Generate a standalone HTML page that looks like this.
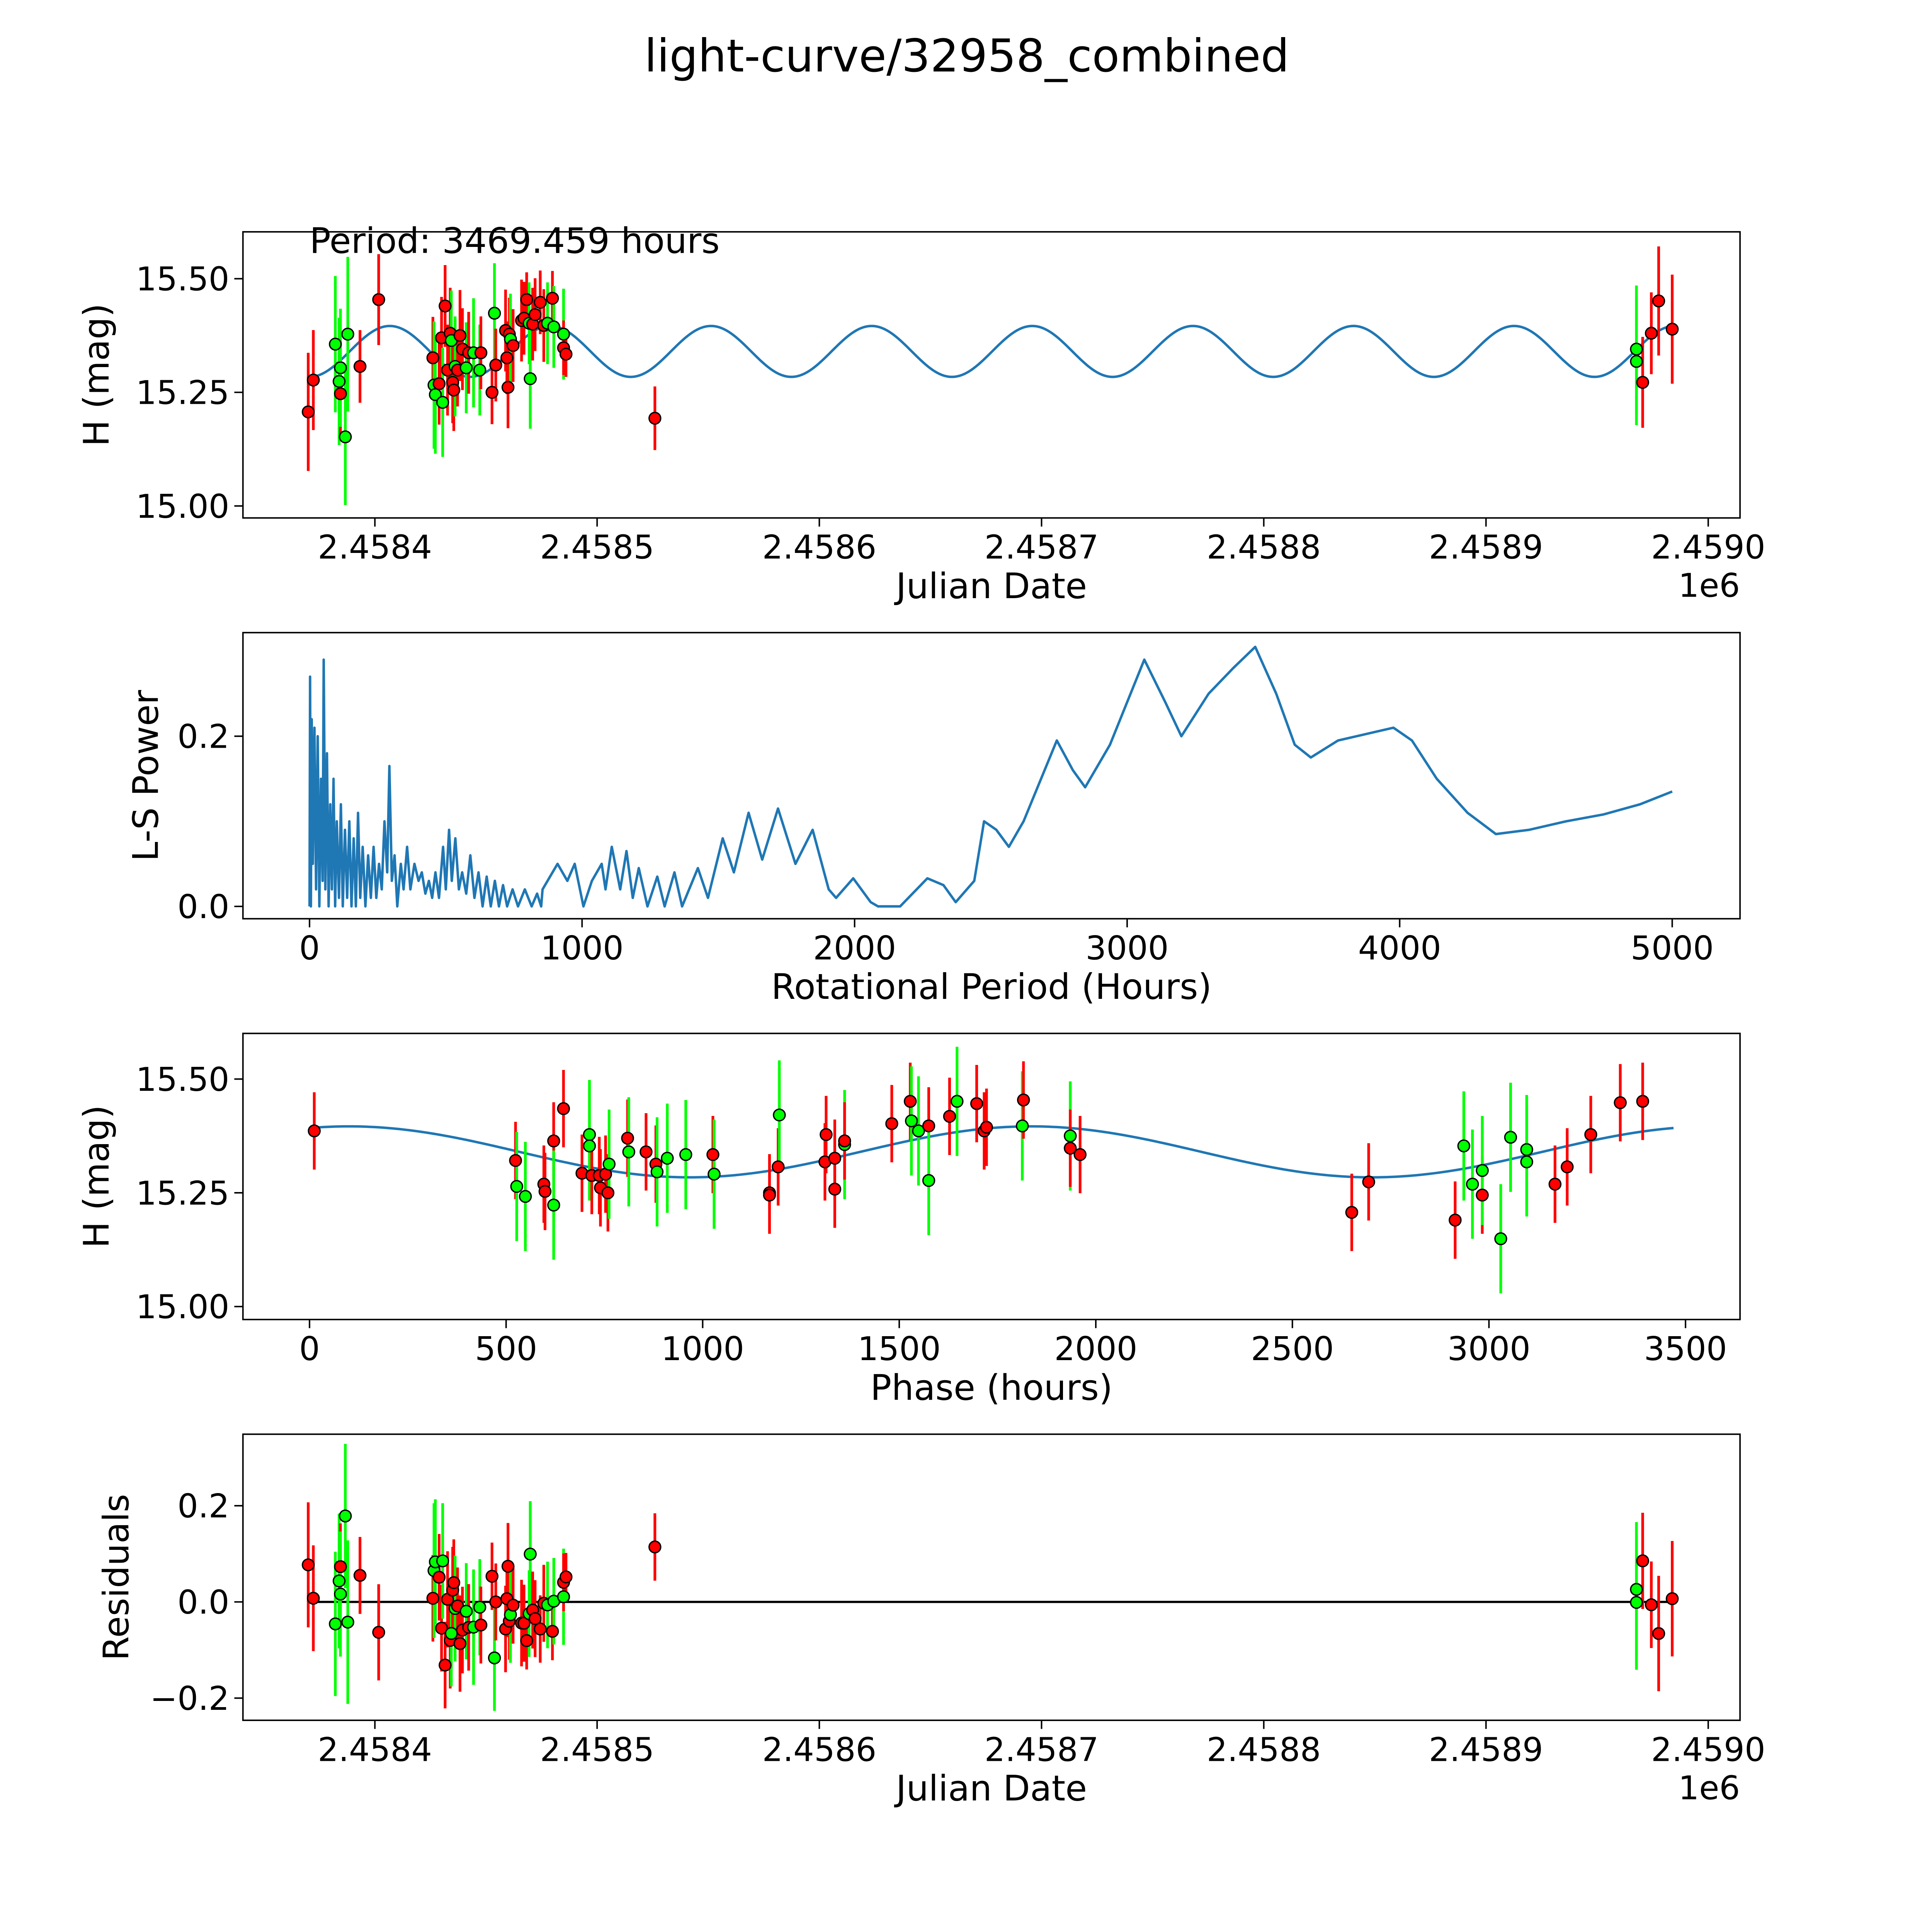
<!DOCTYPE html>
<html><head><meta charset="utf-8"><title>light-curve/32958_combined</title>
<style>
html,body{margin:0;padding:0;background:#fff;width:5400px;height:5400px;overflow:hidden;}
svg{position:absolute;left:0;top:0;width:5400px;height:5400px;display:block;font-family:"DejaVu Sans","Liberation Sans",sans-serif;}
</style></head>
<body>
<svg id="fig" width="5400" height="5400" viewBox="0 0 1692 1692" preserveAspectRatio="xMinYMin meet" xmlns="http://www.w3.org/2000/svg">
<rect width="1692" height="1692" fill="#fff"/>
<text x="784" y="58" font-size="36.5" text-anchor="middle">light-curve/32958_combined</text>
</svg>
<script>
// ---------- data: panel 1 (light curve) ----------
const jd = [2458370.0,2458372.3,2458382.2,2458383.9,2458384.5,2458384.5,2458386.7,2458387.8,2458393.3,2458401.7,
2458426.1,2458426.6,2458427.2,2458428.9,2458430.0,2458430.5,2458431.6,2458432.7,2458433.9,2458434.4,
2458435.0,2458435.5,2458436.1,2458437.2,2458438.3,2458439.4,2458441.1,2458442.2,2458444.4,2458447.2,
2458447.7,2458452.7,2458453.8,2458454.4,2458458.8,2458459.4,2458459.9,2458460.5,2458461.0,2458462.2,
2458466.0,2458467.1,2458468.3,2458469.4,2458469.9,2458471.0,2458472.1,2458474.4,2458476.0,2458477.7,
2458479.9,2458480.5,2458484.9,2458484.9,2458486.0,2458526.0,2458967.7,2458967.7,2458970.5,2458974.4,2458977.7,2458983.8];
const mag = [15.207,15.277,15.356,15.274,15.247,15.304,15.152,15.378,15.307,15.454,
15.326,15.266,15.245,15.269,15.370,15.228,15.440,15.299,15.380,15.364,
15.272,15.255,15.307,15.299,15.375,15.345,15.304,15.337,15.337,15.299,
15.337,15.250,15.424,15.310,15.386,15.326,15.261,15.378,15.367,15.353,
15.408,15.413,15.454,15.402,15.280,15.400,15.421,15.448,15.397,15.402,
15.457,15.394,15.378,15.348,15.334,15.193,15.345,15.318,15.272,15.380,15.451,15.389];
const band = ['r','r','g','g','r','g','g','g','r','r',
'r','g','g','r','r','g','r','r','r','g',
'r','r','g','r','r','r','g','r','g','g',
'r','r','g','r','r','r','r','r','g','r',
'r','r','r','g','g','r','r','r','r','g',
'r','g','g','r','r','r','g','g','r','r','r','r'];
const magErr = [0.13,0.11,0.15,0.14,0.09,0.13,0.15,0.17,0.08,0.10,
0.09,0.14,0.13,0.09,0.09,0.12,0.09,0.10,0.10,0.11,
0.09,0.09,0.11,0.08,0.10,0.09,0.10,0.09,0.12,0.10,
0.08,0.07,0.11,0.08,0.09,0.08,0.09,0.08,0.10,0.08,
0.09,0.08,0.06,0.09,0.11,0.08,0.08,0.07,0.08,0.09,
0.06,0.09,0.10,0.06,0.05,0.07,0.14,0.14,0.10,0.09,0.12,0.12];
const periodText = "Period: 3469.459 hours";
// ---------- data: panel 2 (periodogram) ----------
const lsPeriod = [0,2,5,8,12,18,24,30,36,42,48,52,58,64,70,76,82,88,94,100,108,115,122,130,138,146,154,162,170,178,186,195,205,215,225,235,245,255,265,275,285,293,302,312,322,335,345,358,370,385,400,412,425,438,450,462,475,490,500,512,522,535,548,560,575,590,605,620,635,650,665,680,695,710,725,745,765,790,815,835,850,
855,910,946,973,1005,1036,1072,1086,1109,1140,1163,1186,1208,1240,1276,1303,1339,1367,1425,1462,1516,1557,1611,1661,1719,1783,1846,1905,1932,1995,2059,2086,2167,2267,2326,2371,2439,2475,2520,2566,2620,2742,2801,2846,2937,3063,3140,3199,3299,3389,3470,3547,3615,3674,3774,3842,3977,4045,4136,4249,4353,4475,4611,4747,4882,5000];
const lsPower = [0,0.27,0.0,0.22,0.05,0.21,0.02,0.2,0.0,0.15,0.03,0.29,0.02,0.18,0.0,0.12,0.02,0.15,0.0,0.1,0.01,0.12,0.0,0.09,0.01,0.1,0.0,0.08,0.0,0.11,0.01,0.07,0.0,0.06,0.01,0.07,0.01,0.05,0.02,0.1,0.04,0.165,0.03,0.06,0.0,0.05,0.02,0.07,0.02,0.05,0.03,0.04,0.015,0.03,0.01,0.04,0.01,0.07,0.02,0.09,0.03,0.08,0.02,0.04,0.015,0.06,0.01,0.04,0.0,0.035,0.0,0.03,0.0,0.025,0.0,0.02,0.0,0.02,0.0,0.015,0.0,
0.02,0.05,0.03,0.05,0.0,0.03,0.05,0.02,0.07,0.02,0.065,0.01,0.045,0.0,0.035,0.0,0.04,0.0,0.045,0.01,0.08,0.04,0.11,0.055,0.115,0.05,0.09,0.02,0.01,0.033,0.005,0.0,0.0,0.033,0.025,0.005,0.03,0.1,0.09,0.07,0.1,0.195,0.16,0.14,0.19,0.29,0.24,0.2,0.25,0.28,0.305,0.25,0.19,0.175,0.195,0.2,0.21,0.195,0.15,0.11,0.085,0.09,0.1,0.108,0.12,0.135];
// ---------- data: panel 3 (phased) ----------
const phase = [12,524,527,549,596,599,621,621,646,693,712,712,718,737,740,753,759,762,809,812,856,881,884,910,957,1026,1029,1170,1170,1192,1195,1311,1314,1336,1336,1361,1361,1481,1528,1531,1549,1575,1575,1628,1647,1697,1716,1722,1813,1816,1935,1935,1960,2651,2694,2914,2936,2958,2983,2983,3030,3055,3096,3096,3168,3199,3259,3334,3391];
const phaseMag = [15.386,15.321,15.264,15.242,15.269,15.253,15.364,15.223,15.435,15.293,15.378,15.353,15.288,15.288,15.261,15.291,15.250,15.313,15.370,15.340,15.340,15.313,15.296,15.326,15.334,15.334,15.291,15.250,15.245,15.307,15.421,15.318,15.378,15.258,15.326,15.356,15.364,15.402,15.451,15.408,15.386,15.397,15.277,15.418,15.451,15.446,15.386,15.394,15.397,15.454,15.375,15.348,15.334,15.207,15.274,15.190,15.353,15.269,15.245,15.299,15.149,15.372,15.345,15.318,15.269,15.307,15.378,15.448,15.451];
const phaseBand = ['r','r','g','g','r','r','r','g','r','r','g','g','r','r','r','r','r','g','r','g','r','r','g','g','g','r','g','r','r','r','g','r','r','r','r','g','r','r','r','g','g','r','g','r','g','r','r','r','g','r','g','r','r','r','r','r','g','g','r','g','g','g','g','g','r','r','r','r','r'];
const xTicksJD = [2458400,2458500,2458600,2458700,2458800,2458900,2459000];
const xTickLabelsJD = ["2.4584","2.4585","2.4586","2.4587","2.4588","2.4589","2.4590"];
const yTicksMag = [15.0,15.25,15.5];
const yTickLabelsMag = ["15.00","15.25","15.50"];
const xTicksLS = [0,1000,2000,3000,4000,5000];
const yTicksLS = [0.0,0.2];
const yTickLabelsLS = ["0.0","0.2"];
const xTicksPh = [0,500,1000,1500,2000,2500,3000,3500];
const yTicksRes = [-0.2,0.0,0.2];
const yTickLabelsRes = ["\u22120.2","0.0","0.2"];

// model parameters
const P = 3469.459, mMean = 15.340, mAmp = 0.056, jdPeak = 2458406.7, cycDays = P/24/2;
function modelJD(t){return mMean + mAmp*Math.cos(2*Math.PI*(t-jdPeak)/cycDays);}
function modelPh(p){return mMean + mAmp*Math.cos(2*Math.PI*(p-100)/(P/2));}

const NS="http://www.w3.org/2000/svg";
const svg=document.getElementById('fig');
function el(tag,attrs,parent){const e=document.createElementNS(NS,tag);for(const k in attrs)e.setAttribute(k,attrs[k]);(parent||svg).appendChild(e);return e;}
const colorOf=b=>b==='r'?'#ff0000':'#00ff00';

function lin(d0,d1,p0,p1){return v=>p0+(v-d0)*(p1-p0)/(d1-d0);}
const L=197,R=1411;
const sxJD=lin(2458400,2458500,304,484.2);
const sxLS=lin(0,1000,251,472);
const sxPh=lin(0,500,251,410.4);
const TF=26.5, LF=28.5;

function frame(name,top,bot,xs,xticks,xlabels,ys,yticks,ylabels,xTitle,yTitle,yTitleX,exp){
  const g=el('g',{});
  
  
  xticks.forEach((t,i)=>{
    const x=xs(t);
    const tk=el('line',{x1:x,x2:x,y1:bot,y2:bot+7,stroke:'#000','stroke-width':1.2},g);
    
    
    const tl=el('text',{x:x,y:bot+33,'font-size':TF,'text-anchor':'middle'},g);
    tl.textContent=xlabels[i];
    
    
  });
  yticks.forEach((t,i)=>{
    const y=ys(t);
    const tk=el('line',{x1:L-7,x2:L,y1:y,y2:y,stroke:'#000','stroke-width':1.2},g);
    
    
    const tl=el('text',{x:L-11,y:y+9.5,'font-size':TF,'text-anchor':'end'},g);
    tl.textContent=ylabels[i];
    
    
  });
  const xt=el('text',{x:804,y:bot+65,'font-size':LF,'text-anchor':'middle'},g);
  xt.textContent=xTitle;
  
  
  const cy=(top+bot)/2;
  const yt=el('text',{x:yTitleX,y:cy,'font-size':LF,'text-anchor':'middle',transform:`rotate(-90 ${yTitleX} ${cy})`},g);
  yt.textContent=yTitle;
  
  
  if(exp){
    const et=el('text',{x:R,y:bot+64,'font-size':TF,'text-anchor':'end'},g);
    et.textContent='1e6';
    
    
  }
  return g;
}
function border(top,bot){
  const b=el('rect',{x:L,y:top,width:R-L,height:bot-top,fill:'none',stroke:'#000','stroke-width':1.2});
  
  
}
function points(name,xsArr,ysArr,errArr,bands,xs,ys){
  const g=el('g',{});
  
  
  for(let i=0;i<xsArr.length;i++){
    const x=xs(xsArr[i]),e=errArr[i];
    const ln=el('line',{x1:x,x2:x,y1:ys(ysArr[i]-e),y2:ys(ysArr[i]+e),stroke:colorOf(bands[i]),'stroke-width':2.2},g);
    
    
  }
  for(let i=0;i<xsArr.length;i++){
    const c=el('circle',{cx:xs(xsArr[i]),cy:ys(ysArr[i]),r:4.7,fill:colorOf(bands[i]),stroke:'#000','stroke-width':1.1},g);
    
    
  }
}
function curve(name,xs,ys,xArr,yArr){
  const d=xArr.map((v,i)=>(i?'L':'M')+xs(v).toFixed(2)+' '+ys(yArr[i]).toFixed(2)).join(' ');
  const p=el('path',{d:d,fill:'none',stroke:'#1f77b4','stroke-width':2,'stroke-linejoin':'round'});
  
  
}

// Panel 1
const sy1=lin(15.0,15.5,410.3,226);
frame('light-curve-panel',188,420,sxJD,xTicksJD,xTickLabelsJD,sy1,yTicksMag,yTickLabelsMag,'Julian Date','H (mag)',88,true);
{const xs=[],ys=[];const a=Math.min(...jd),b=Math.max(...jd);for(let i=0;i<=800;i++){const t=a+(b-a)*i/800;xs.push(t);ys.push(modelJD(t));}curve('model-curve',sxJD,sy1,xs,ys);}
points('light-curve-points',jd,mag,magErr,band,sxJD,sy1);
border(188,420);
{const t=el('text',{x:251,y:205,'font-size':LF});t.textContent=periodText;}

// Panel 2
const sy2=lin(0,0.2,735,597);
frame('periodogram-panel',513,745,sxLS,xTicksLS,xTicksLS.map(String),sy2,yTicksLS,yTickLabelsLS,'Rotational Period (Hours)','L-S Power',128,false);
curve('periodogram-curve',sxLS,sy2,lsPeriod,lsPower);
border(513,745);

// Panel 3
const sy3=lin(15.0,15.5,1059.5,875);
frame('phased-panel',838,1070,sxPh,xTicksPh,xTicksPh.map(String),sy3,yTicksMag,yTickLabelsMag,'Phase (hours)','H (mag)',88,false);
{const xs=[],ys=[];for(let i=0;i<=600;i++){const p=P*i/600;xs.push(p);ys.push(modelPh(p));}curve('phased-model-curve',sxPh,sy3,xs,ys);}
const phaseErr=phaseBand.map(b=>b==='r'?0.085:0.12);
points('phased-points',phase,phaseMag,phaseErr,phaseBand,sxPh,sy3);
border(838,1070);

// Panel 4
const sy4=lin(-0.2,0.2,1377,1221);
frame('residuals-panel',1163,1395,sxJD,xTicksJD,xTickLabelsJD,sy4,yTicksRes,yTickLabelsRes,'Julian Date','Residuals',104,true);
{const z=el('line',{x1:sxJD(Math.min(...jd)),x2:sxJD(Math.max(...jd)),y1:sy4(0),y2:sy4(0),stroke:'#000','stroke-width':1.8});}
const resid=jd.map((t,i)=>modelJD(t)-mag[i]);
points('residual-points',jd,resid,magErr,band,sxJD,sy4);
border(1163,1395);
</script>
</body></html>
